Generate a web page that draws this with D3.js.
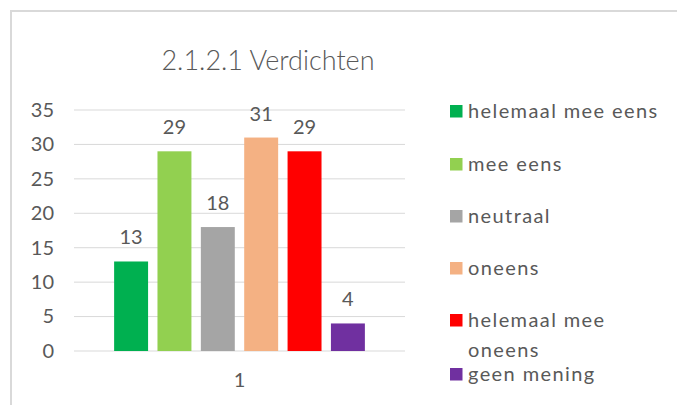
<!DOCTYPE html>
<html>
<head>
<meta charset="utf-8">
<script src="https://cdn.jsdelivr.net/npm/d3@7"></script>
<style>
  body { margin: 0; background: #fff; }
  svg { display: block; font-family: Lato, "Open Sans", sans-serif; }
</style>
</head>
<body>
<svg width="677" height="405"></svg>
<script>
const categories = ["helemaal mee eens", "mee eens", "neutraal", "oneens", "helemaal mee oneens", "geen mening"];
const values = [13, 29, 18, 31, 29, 4];
const colors = ["#00b050", "#92d050", "#a5a5a5", "#f4b183", "#ff0000", "#7030a0"];
const yTicks = [0, 5, 10, 15, 20, 25, 30, 35];
const groupLabel = "1";
const title = "2.1.2.1 Verdichten";

const svg = d3.select("svg");
const textColor = "#595959";

// chart border
svg.append("path")
    .attr("d", "M11,405 V11 H677")
    .attr("fill", "none")
    .attr("stroke", "#d9d9d9")
    .attr("stroke-width", 2);

svg.append("text")
    .attr("x", 268)
    .attr("y", 70)
    .attr("text-anchor", "middle")
    .attr("font-size", 27)
    .attr("font-weight", 300)
    .attr("fill", textColor)
    .text(title);

const plot = { left: 74, right: 405, top: 110, bottom: 351 };

const y = d3.scaleLinear().domain([0, 35]).range([plot.bottom, plot.top]);
const x0 = d3.scaleBand().domain([groupLabel]).range([plot.left, plot.right]).paddingInner(0).paddingOuter(0.16);
const x1 = d3.scaleBand().domain(categories).range([0, x0.bandwidth()]).paddingInner(0.217).paddingOuter(0);

// gridlines
svg.append("g")
    .selectAll("line")
    .data(yTicks)
    .join("line")
    .attr("x1", plot.left)
    .attr("x2", plot.right)
    .attr("y1", d => y(d))
    .attr("y2", d => y(d))
    .attr("stroke", "#d9d9d9")
    .attr("stroke-width", 1);

// y axis labels
const yAxis = svg.append("g")
    .attr("transform", `translate(${plot.left},0)`)
    .call(d3.axisLeft(y).tickValues(yTicks).tickSize(0).tickPadding(20));
yAxis.select(".domain").remove();
yAxis.selectAll("text")
    .attr("font-size", 20)
    .attr("font-family", "Lato, sans-serif")
    .attr("fill", textColor);

// x axis label
const xAxis = svg.append("g")
    .attr("transform", `translate(0,${plot.bottom})`)
    .call(d3.axisBottom(x0).tickSize(0).tickPadding(22));
xAxis.select(".domain").remove();
xAxis.selectAll("text")
    .attr("font-size", 20)
    .attr("font-family", "Lato, sans-serif")
    .attr("fill", textColor);

const gBars = svg.append("g")
    .attr("transform", `translate(${x0(groupLabel)},0)`);

gBars.selectAll("rect")
    .data(categories)
    .join("rect")
    .attr("x", d => x1(d))
    .attr("y", (d, i) => y(values[i]))
    .attr("width", x1.bandwidth())
    .attr("height", (d, i) => y(0) - y(values[i]))
    .attr("fill", (d, i) => colors[i]);

gBars.selectAll("text")
    .data(categories)
    .join("text")
    .attr("x", d => x1(d) + x1.bandwidth() / 2)
    .attr("y", (d, i) => y(values[i]) - 17)
    .attr("text-anchor", "middle")
    .attr("font-size", 20)
    .attr("fill", textColor)
    .text((d, i) => values[i]);

// legend
const legendRows = [
    ["helemaal mee eens"],
    ["mee eens"],
    ["neutraal"],
    ["oneens"],
    ["helemaal mee", "oneens"],
    ["geen mening"]
];
const legendY = [111, 164, 216, 268, 320, 374];

const legend = svg.append("g");
legendRows.forEach((lines, i) => {
    legend.append("rect")
        .attr("x", 450)
        .attr("y", legendY[i] - 6)
        .attr("width", 12.5)
        .attr("height", 12.5)
        .attr("fill", colors[i]);
    const t = legend.append("text")
        .attr("x", 468)
        .attr("y", legendY[i] + 6.5)
        .attr("font-size", 20)
        .attr("letter-spacing", 1.4)
        .attr("fill", textColor);
    lines.forEach((ln, j) => {
        t.append("tspan")
            .attr("x", 468)
            .attr("dy", j === 0 ? 0 : 30)
            .text(ln);
    });
});
</script>
</body>
</html>
